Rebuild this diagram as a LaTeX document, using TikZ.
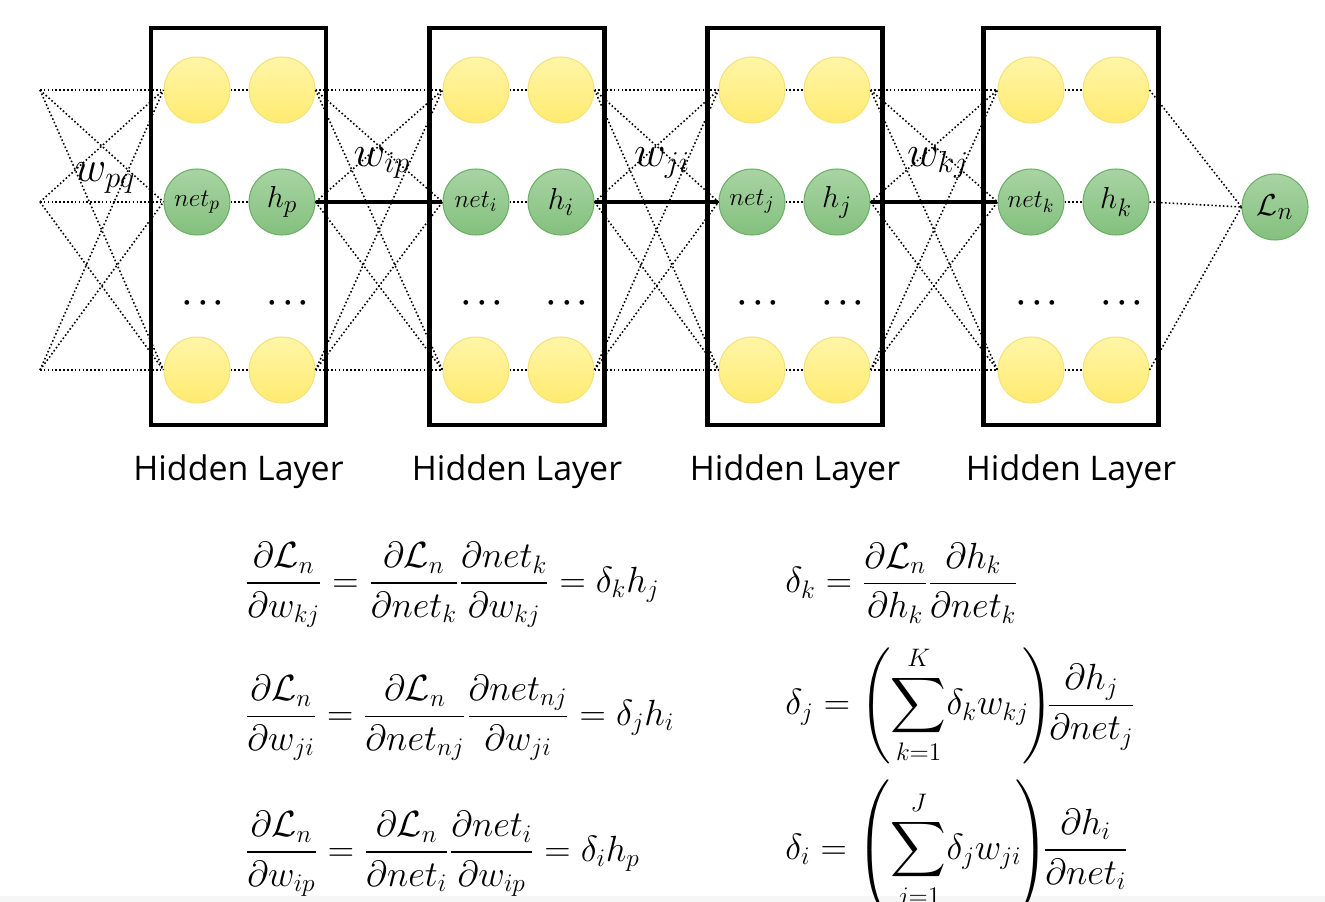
\documentclass[tikz,border=0pt]{standalone}
\usepackage{amsmath,amssymb}
\usepackage{fontspec}
\usepackage{tikz}
\usetikzlibrary{positioning}
\newfontfamily\layerfont{Open Sans}
\definecolor{yellowtop}{HTML}{FFF5A8}
\definecolor{yellowbot}{HTML}{FFEB70}
\definecolor{yellowrim}{HTML}{F6E27C}
\definecolor{greentop}{HTML}{A8D4A3}
\definecolor{greenbot}{HTML}{84C07E}
\definecolor{greenrim}{HTML}{6DAF67}

\begin{document}
\begin{tikzpicture}[x=0.02cm,y=-0.02cm,
  unit/.style={circle,minimum size=1.32cm,inner sep=0pt,line width=0.6pt},
  idle/.style={unit,draw=yellowrim,top color=yellowtop,bottom color=yellowbot},
  live/.style={unit,draw=greenrim,top color=greentop,bottom color=greenbot},
  layerbox/.style={draw,line width=2.4pt,minimum width=3.5cm,minimum height=7.94cm,inner sep=0pt},
  wire/.style={line width=0.9pt,dash pattern=on 0.9pt off 1.3pt},
  grad/.style={line width=2.4pt},
  dots/.style={font=\fontsize{19}{22}\selectfont},
  weight/.style={font=\fontsize{26}{30}\selectfont},
  eqn/.style={anchor=west,inner sep=0pt,font=\fontsize{22}{26}\selectfont}]
\useasboundingbox (0,0) rectangle (1325,902);
\clip (0,0) rectangle (1325,902);
\fill[gray!7] (0,896) rectangle (1325,902);
% input side
\coordinate (in-top) at (40,90);
\coordinate (in-mid) at (40,202);
\coordinate (in-bot) at (40,370);
% the four hidden layers
\foreach \n/\xa/\xb/\xc in {p/197/282/238.5,i/476/561/517,j/752/837/795,k/1031/1116/1071}{
  \node[layerbox] (box-\n) at (\xc,226.5) {};
  \node[idle] (top-net-\n) at (\xa,90) {};
  \node[idle] (top-h-\n) at (\xb,90) {};
  \node[live,font=\fontsize{15}{18}\selectfont] (mid-net-\n) at (\xa,202) {$net_\n$};
  \node[live,font=\fontsize{19}{22}\selectfont] (mid-h-\n) at (\xb,202) {$h_\n$};
  \node[idle] (bot-net-\n) at (\xa,370) {};
  \node[idle] (bot-h-\n) at (\xb,370) {};
  \node[dots] (dots-net-\n) at (\xa+9,303) {$\boldsymbol{\cdots}$};
  \node[dots] (dots-h-\n) at (\xb+9,303) {$\boldsymbol{\cdots}$};
  \node[font=\layerfont\fontsize{19.3}{23}\selectfont] (name-\n) at (\xc,472) {Hidden Layer};
}
\node[live,font=\fontsize{19}{22}\selectfont] (loss) at (1275,207) {$\mathcal{L}_n$};
% weights
\foreach \ra in {top,mid,bot}{
  \foreach \rb in {top,mid,bot}{
    \draw[wire] (in-\ra) -- (\rb-net-p.west);
    \draw[wire] (\ra-h-p.east) -- (\rb-net-i.west);
    \draw[wire] (\ra-h-i.east) -- (\rb-net-j.west);
    \draw[wire] (\ra-h-j.east) -- (\rb-net-k.west);
  }
  \draw[wire] (\ra-h-k.east) -- (loss.west);
  \foreach \n in {p,i,j,k}
    \draw[wire] (\ra-net-\n) -- (\ra-h-\n);
}
\draw[grad] (mid-h-p.east) -- (mid-net-i.west);
\draw[grad] (mid-h-i.east) -- (mid-net-j.west);
\draw[grad] (mid-h-j.east) -- (mid-net-k.west);
\node[weight] (w-pq) at (105,178) {$w_{pq}$};
\node[weight] (w-ip) at (382,163) {$w_{ip}$};
\node[weight] (w-ji) at (662,163) {$w_{ji}$};
\node[weight] (w-kj) at (938,163) {$w_{kj}$};
% gradients
\node[eqn] (grad-kj) at (245,585) {$\displaystyle \frac{\partial\mathcal{L}_n}{\partial w_{kj}} = \frac{\partial\mathcal{L}_n}{\partial net_k}\frac{\partial net_k}{\partial w_{kj}} = \delta_k h_j$};
\node[eqn] (grad-ji) at (245,718) {$\displaystyle \frac{\partial\mathcal{L}_n}{\partial w_{ji}} = \frac{\partial\mathcal{L}_n}{\partial net_{nj}}\frac{\partial net_{nj}}{\partial w_{ji}} = \delta_j h_i$};
\node[eqn] (grad-ip) at (245,854) {$\displaystyle \frac{\partial\mathcal{L}_n}{\partial w_{ip}} = \frac{\partial\mathcal{L}_n}{\partial net_i}\frac{\partial net_i}{\partial w_{ip}} = \delta_i h_p$};
% deltas
\node[eqn] (delta-k) at (785,583) {$\displaystyle \delta_k = \frac{\partial\mathcal{L}_n}{\partial h_k}\frac{\partial h_k}{\partial net_k}$};
\node[eqn] (delta-j) at (785,705) {$\displaystyle \delta_j = \left(\sum_{k=1}^{K}\!\delta_k w_{kj}\!\right)\!\!\frac{\partial h_j}{\partial net_j}$};
\node[eqn] (delta-i) at (785,850) {$\displaystyle \delta_i = \left(\sum_{j=1}^{J}\!\delta_j w_{ji}\!\right)\!\!\frac{\partial h_i}{\partial net_i}$};
\end{tikzpicture}
\end{document}
